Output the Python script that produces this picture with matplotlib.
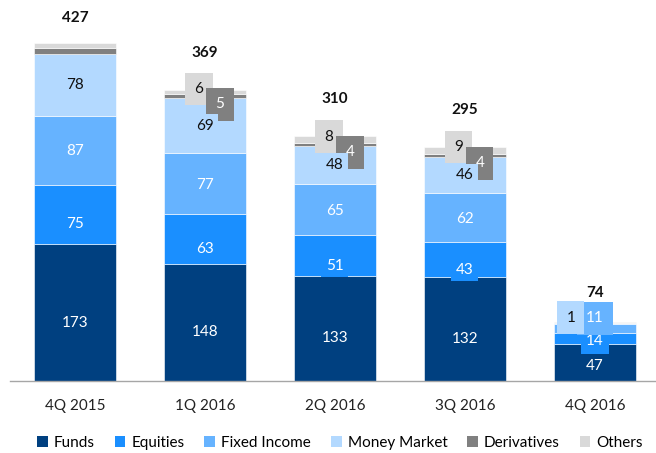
import matplotlib
matplotlib.use("Agg")
import matplotlib.pyplot as plt
from matplotlib.patches import Patch
import numpy as np

plt.rcParams['font.family'] = ['Lato', 'DejaVu Sans']

categories = ["4Q 2015", "1Q 2016", "2Q 2016", "3Q 2016", "4Q 2016"]
funds = [173, 148, 133, 132, 47]
equities = [75, 63, 51, 43, 14]
fixed_income = [87, 77, 65, 62, 11]
money_market = [78, 69, 48, 46, 1]
derivatives = [8, 5, 4, 4, 0.5]
others = [6, 6, 8, 9, 0.5]
totals = [427, 369, 310, 295, 74]
small_labeled = [False, True, True, True, False]

series_names = ["Funds", "Equities", "Fixed Income", "Money Market", "Derivatives", "Others"]
series = [funds, equities, fixed_income, money_market, derivatives, others]
colors = ["#004080", "#1a8fff", "#66b3ff", "#b3d9ff", "#808080", "#d9d9d9"]
text_colors = ["white", "white", "white", "#111111", "white", "#111111"]

# label offsets in pixels (dx, dy up-positive) and box pads for regular bars and the compact last bar
offsets_regular = [(0, -10), (0, -10), (0, -1), (0, 0), (15, -8), (-6, 3)]
pads_regular = [0.3, 0.3, 0.3, 0.3, 0.6, 0.6]
offsets_compact = [(0, -4), (0, -3), (0, 10), (-24, 6), None, None]
pads_compact = [0.05, 0.35, 0.6, 0.6, 0.6, 0.6]

W, H = 656, 453
fig = plt.figure(figsize=(W / 100, H / 100), dpi=100)
ax = fig.add_axes([10 / W, 1 - 381 / H, 645 / W, 372 / H])
ax.set_xlim(-0.5, 4.463)
ax.set_ylim(0, 470)

x = np.arange(len(categories))
width = 0.63
bottom = np.zeros(len(categories))
px2pt = 0.72
for k, (vals, c) in enumerate(zip(series, colors)):
    vals = np.array(vals, dtype=float)
    ax.bar(x, vals, width, bottom=bottom, color=c, edgecolor="white", linewidth=0.4,
           label=series_names[k], zorder=2)
    for i, v in enumerate(vals):
        compact = (i == len(categories) - 1)
        if k >= 4 and not small_labeled[i]:
            continue
        off = offsets_compact[k] if compact else offsets_regular[k]
        if off is None:
            continue
        pad = pads_compact[k] if compact else pads_regular[k]
        ax.annotate(f"{v:g}", xy=(x[i], bottom[i] + v / 2),
                    xytext=(off[0] * px2pt, off[1] * px2pt), textcoords="offset points",
                    ha="center", va="center", fontsize=11, color=text_colors[k],
                    zorder=5 + k if k < 4 else (7 if k == 4 else 6),
                    bbox=dict(boxstyle=f"square,pad={pad}", facecolor=c, edgecolor="none"))
    bottom += vals

for i, t in enumerate(totals):
    extra = 37 if small_labeled[i] else (29 if i == len(categories) - 1 else 25)
    ax.annotate(f"{t}", xy=(x[i], bottom[i]), xytext=(0, extra * px2pt),
                textcoords="offset points", ha="center", va="center",
                fontsize=11, fontweight="bold", color="#111111")

ax.set_xticks(x)
ax.set_xticklabels(categories, fontsize=11, color="#222222")
ax.tick_params(axis="x", length=0, pad=13)
ax.set_yticks([])
for s in ["top", "right", "left"]:
    ax.spines[s].set_visible(False)
ax.spines["bottom"].set_color("#a6a6a6")
ax.spines["bottom"].set_linewidth(1)

handles = [Patch(facecolor=c, edgecolor="none") for c in colors]
fig.legend(handles, series_names, loc="center", bbox_to_anchor=(340 / W, 1 - 443 / H),
           ncol=6, frameon=False, fontsize=11, handlelength=0.7, handleheight=0.7,
           handletextpad=0.4, columnspacing=1.3)

fig.savefig("out.png", dpi=100)
